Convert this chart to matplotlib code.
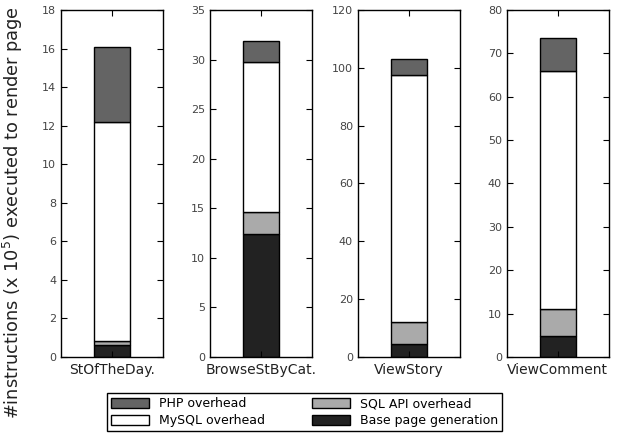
import matplotlib
matplotlib.use('Agg')
import matplotlib.pyplot as plt

pages = ['StOfTheDay.', 'BrowseStByCat.', 'ViewStory', 'ViewComment']
base_gen = [0.6, 12.4, 4.5, 4.9]
sql_api = [0.25, 2.2, 7.5, 6.1]
mysql = [11.35, 15.2, 85.5, 55.0]
php = [3.9, 2.1, 5.5, 7.5]
ymax = [18, 35, 120, 80]
ystep = [2, 5, 20, 10]

colors = {'base': '#222222', 'sql': '#aaaaaa', 'mysql': '#ffffff', 'php': '#646464'}

fig = plt.figure(figsize=(6.18, 4.33), dpi=100)
lefts = [0.0987, 0.340, 0.579, 0.820]
bottom_f, height_f, width_f = 0.1755, 0.8015, 0.165

handles = {}
for i, name in enumerate(pages):
    ax = fig.add_axes([lefts[i], bottom_f, width_f, height_f])
    b = 0
    for key, vals in [('base', base_gen), ('sql', sql_api), ('mysql', mysql), ('php', php)]:
        h = ax.bar([0], [vals[i]], width=0.7, bottom=b, color=colors[key],
                   edgecolor='black', linewidth=1.0)
        handles[key] = h
        b += vals[i]
    ax.set_xlim(-1, 1)
    ax.set_ylim(0, ymax[i])
    ax.set_yticks(range(0, ymax[i] + 1, ystep[i]))
    ax.set_xticks([0])
    ax.set_xticklabels([name], fontsize=10, color='#222222')
    ax.tick_params(axis='both', direction='in', length=4, width=0.8, top=True, right=True,
                   labelsize=8, labelcolor='#444444')
    ax.tick_params(axis='x', labelsize=10, pad=4, labelcolor='#222222')
    for s in ax.spines.values():
        s.set_linewidth(1.0)

fig.text(0.021, 0.51, '#instructions (x 10$^5$) executed to render page',
         rotation=90, ha='center', va='center', fontsize=12.8, color='#222222')

fig.legend([handles['php'], handles['mysql'], handles['sql'], handles['base']],
           ['PHP overhead', 'MySQL overhead', 'SQL API overhead', 'Base page generation'],
           loc='lower center', bbox_to_anchor=(0.493, -0.005), ncol=2, fontsize=9,
           frameon=True, fancybox=False, edgecolor='black', framealpha=1,
           handlelength=3, handleheight=0.9, columnspacing=3.8, labelspacing=0.3,
           borderpad=0.35, borderaxespad=0.3)

fig.savefig('out.png', dpi=100)
